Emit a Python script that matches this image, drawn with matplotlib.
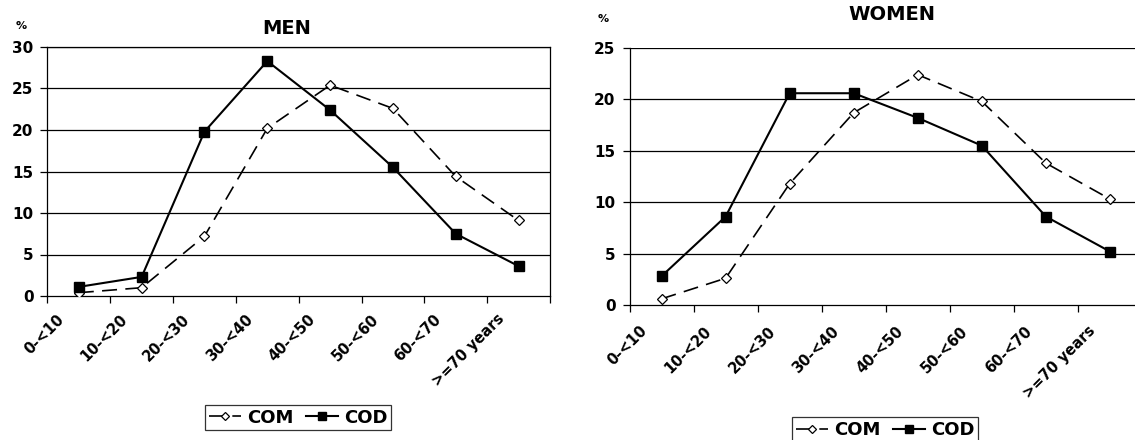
import matplotlib
matplotlib.use('Agg')
import matplotlib.pyplot as plt
import matplotlib.transforms as mtransforms
import numpy as np

plt.rcParams['font.family'] = ['DejaVu Sans']
plt.rcParams['font.weight'] = 'bold'

age_groups = ['0-<10', '10-<20', '20-<30', '30-<40', '40-<50', '50-<60', '60-<70', '>=70 years']

men_com = [0.4, 1.0, 7.2, 20.2, 25.4, 22.6, 14.4, 9.1]
men_cod = [1.1, 2.3, 19.8, 28.3, 22.4, 15.5, 7.5, 3.6]

women_com = [0.6, 2.6, 11.8, 18.7, 22.4, 19.8, 13.8, 10.3]
women_cod = [2.8, 8.6, 20.6, 20.6, 18.2, 15.5, 8.6, 5.2]

fig = plt.figure(figsize=(11.35, 4.4), dpi=100)
W, H = 1135, 440


def px_axes(left, top, right, bottom):
    return fig.add_axes([left / W, 1 - bottom / H, (right - left) / W, (bottom - top) / H])


def draw(ax, com, cod, ymax, right_spine, pad):
    x = np.arange(len(age_groups)) + 0.5
    ax.set_xlim(0, len(age_groups))
    ax.set_ylim(0, ymax)
    ax.set_yticks(np.arange(0, ymax + 1, 5))
    for v in np.arange(5, ymax + 1, 5):
        ax.axhline(v, color='black', lw=0.9, zorder=1)
    l1, = ax.plot(x, com, color='black', lw=1.2, dashes=(9, 5), marker='D', ms=5,
                  mfc='white', mec='black', mew=0.9, label='COM', zorder=3)
    l2, = ax.plot(x, cod, color='black', lw=1.5, marker='s', ms=6.5,
                  mfc='black', mec='black', label='COD', zorder=3)
    ax.set_xticks(x)
    ax.set_xticklabels(age_groups, rotation=45, ha='right', va='center',
                       rotation_mode='anchor', fontsize=10.5, fontweight='bold')
    ax.tick_params(axis='x', which='major', length=0, pad=pad)
    shift = mtransforms.ScaledTranslation(-12 / 72, 0, fig.dpi_scale_trans)
    for lab in ax.get_xticklabels():
        lab.set_transform(lab.get_transform() + shift)
    ax.set_xticks(np.arange(len(age_groups) + 1), minor=True)
    ax.tick_params(axis='x', which='minor', length=5, width=0.9, direction='out')
    ax.tick_params(axis='y', length=5, width=0.9, direction='out', labelsize=11, pad=5)
    for lab in ax.get_yticklabels():
        lab.set_fontweight('bold')
    for s in ['top', 'right']:
        ax.spines[s].set_visible(right_spine)
    for s in ax.spines.values():
        s.set_linewidth(0.9)
    return l1, l2


ax1 = px_axes(47.4, 47, 550, 296)
h = draw(ax1, men_com, men_cod, 30, True, 15)
ax2 = px_axes(629.5, 48, 1142, 305)
draw(ax2, women_com, women_cod, 25, False, 17)

fig.text(287 / W, 1 - 29 / H, 'MEN', ha='center', va='center', fontsize=14, fontweight='bold')
fig.text(892 / W, 1 - 15 / H, 'WOMEN', ha='center', va='center', fontsize=14, fontweight='bold')
fig.text(21.5 / W, 1 - 26 / H, '%', ha='center', va='center', fontsize=8, fontweight='bold')
fig.text(603.5 / W, 1 - 19 / H, '%', ha='center', va='center', fontsize=8, fontweight='bold')

leg_kw = dict(ncol=2, frameon=True, fancybox=False, edgecolor='black',
              handlelength=1.8, handletextpad=0.3, columnspacing=0.7, borderpad=0.2,
              markerscale=0.8, prop={'weight': 'bold', 'size': 13})
leg1 = fig.legend(h, ['COM', 'COD'], loc='center', bbox_to_anchor=(298 / W, 1 - 417.5 / H), **leg_kw)
leg2 = fig.legend(h, ['COM', 'COD'], loc='center', bbox_to_anchor=(885 / W, 1 - 430 / H), **leg_kw)
for leg in (leg1, leg2):
    leg.get_frame().set_linewidth(0.9)

fig.savefig('out.png', dpi=100)
